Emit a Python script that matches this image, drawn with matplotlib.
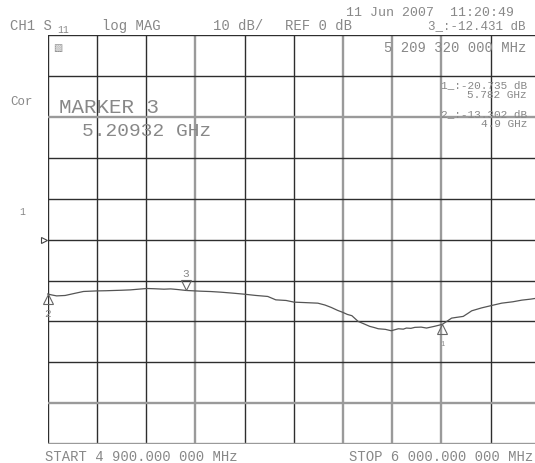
import matplotlib
matplotlib.use('Agg')
import matplotlib.pyplot as plt
import matplotlib.transforms as mtransforms
import numpy as np

# Swept S11 trace, 4.9 - 6.0 GHz, log MAG (dB)
freq_ghz = [4.900, 4.910, 4.920, 4.939, 4.960, 4.980, 5.010, 5.030, 5.047, 5.065,
            5.085, 5.105, 5.122, 5.140, 5.160, 5.175, 5.190, 5.20932, 5.242, 5.265,
            5.287, 5.315, 5.339, 5.365, 5.392, 5.410, 5.433, 5.451, 5.475, 5.504,
            5.520, 5.534, 5.548, 5.560, 5.570, 5.580, 5.594, 5.607, 5.620, 5.630,
            5.639, 5.655, 5.668, 5.684, 5.695, 5.702, 5.712, 5.721, 5.735, 5.747,
            5.765, 5.782, 5.795, 5.803, 5.815, 5.829, 5.840, 5.848, 5.870, 5.893,
            5.915, 5.940, 5.960, 5.980, 5.994, 6.000]
mag_db = [-13.302, -13.55, -13.76, -13.66, -13.15, -12.68, -12.54, -12.50, -12.44, -12.38,
          -12.29, -12.10, -11.95, -12.02, -12.12, -12.05, -12.20, -12.431, -12.61, -12.70,
          -12.85, -13.10, -13.34, -13.65, -13.90, -14.73, -14.88, -15.29, -15.40, -15.54,
          -16.00, -16.59, -17.30, -17.80, -18.30, -18.60, -20.00, -20.60, -21.22, -21.50,
          -21.80, -21.95, -22.29, -21.80, -21.90, -21.63, -21.70, -21.46, -21.40, -21.63,
          -21.20, -20.735, -19.80, -19.20, -19.00, -18.78, -18.00, -17.41, -16.70, -16.10,
          -15.54, -15.20, -14.80, -14.55, -14.32, -14.25]

# markers: number, frequency (GHz), value (dB)
marker_ids = [1, 2, 3]
marker_freq = [5.782, 4.9, 5.20932]
marker_db = [-20.735, -13.302, -12.431]
active_marker = 3

start_ghz, stop_ghz = 4.9, 6.0
ref_db, scale_db = 0, 10
x_divs = np.linspace(start_ghz, stop_ghz, 11)
y_divs = np.arange(-50, 51, 10)

W, H = 535, 464
fig = plt.figure(figsize=(W / 100, H / 100), dpi=100)
fig.patch.set_facecolor('white')

# graticule area (right edge runs slightly past the screen capture)
ax = fig.add_axes([47.7 / W, (H - 445) / H, 492 / W, 408.7 / H])
ax.set_xlim(start_ghz, stop_ghz)
ax.set_ylim(-50, 50)
ax.set_axis_off()

dark, light = '#2e2e2e', '#9a9a9a'
gray_cols = [3, 6, 7, 8]
gray_rows = [0, 1, 8]
for i, f in enumerate(x_divs):
    c, lw = (light, 1.7) if i in gray_cols else (dark, 1.0)
    ax.axvline(f, color=c, lw=lw, zorder=1)
for i, d in enumerate(y_divs):
    c, lw = (light, 1.7) if i in gray_rows else (dark, 1.0)
    ax.axhline(d, color=c, lw=lw, zorder=1)

ax.plot(freq_ghz, mag_db, color='#555555', lw=0.9, zorder=3, clip_on=False)

txt_col = '#888888'
mono = ['Liberation Mono', 'DejaVu Sans']

# marker symbols: tip of the triangle sits on the trace
down = mtransforms.offset_copy(ax.transData, fig=fig, x=0, y=5.0, units='dots')
up = mtransforms.offset_copy(ax.transData, fig=fig, x=0, y=-5.0, units='dots')
for n, f, v in zip(marker_ids, marker_freq, marker_db):
    if n == active_marker:
        ax.plot(f, v, marker='v', ms=7, mfc='none', mec='#666666', mew=0.8,
                transform=down, zorder=4, clip_on=False)
        ax.annotate(str(n), (f, v), xytext=(0, 17), textcoords='offset pixels',
                    ha='center', va='center', fontsize=8, family=mono, color=txt_col)
    else:
        ax.plot(f, v, marker='^', ms=7, mfc='none', mec='#666666', mew=0.8,
                transform=up, zorder=4, clip_on=False)
        ax.annotate(str(n), (f, v), xytext=(0, -19), textcoords='offset pixels',
                    ha='center', va='center', fontsize=8 if n == 2 else 5,
                    family=mono, color=txt_col)

# reference position pointer on the left edge
ax.plot(0, ref_db, marker='>', ms=4.5, mfc='none', mec='#444444', mew=0.8,
        transform=mtransforms.offset_copy(ax.get_yaxis_transform(), fig=fig,
                                          x=-4, y=0, units='dots'),
        clip_on=False, zorder=4)


def label(x, y, s, size=10, ha='left'):
    fig.text(x / W, 1 - y / H, s, ha=ha, va='center', fontsize=size,
             family=mono, color=txt_col)


label(346, 13, '11 Jun 2007  11:20:49', size=9.5)
label(10, 26, 'CH1 S', size=10)
label(57, 30, '11', size=7)
label(102, 26, 'log MAG', size=10)
label(213, 26, '%d dB/' % scale_db, size=10)
label(285, 26, 'REF %d dB' % ref_db, size=10)
label(526, 26, '%d_:%.3f dB' % (active_marker, marker_db[2]), size=9, ha='right')
label(526, 48, '5 209 320 000 MHz', size=10, ha='right')
label(53, 48, '\u25a7', size=7)
label(10, 102, 'Cor', size=9)
label(59, 108, 'MARKER %d' % active_marker, size=15)
label(82, 132, '%.5f GHz' % marker_freq[2], size=14)
label(527, 85, '1_:%.3f dB' % marker_db[0], size=8, ha='right')
label(527, 95, '%.3f GHz' % marker_freq[0], size=8, ha='right')
label(527, 114, '2_:%.3f dB' % marker_db[1], size=8, ha='right')
label(527, 124, '%.1f GHz' % marker_freq[1], size=8, ha='right')
label(22, 212, '1', size=7, ha='center')
label(45, 457, 'START 4 900.000 000 MHz', size=10)
label(533, 457, 'STOP 6 000.000 000 MHz', size=10, ha='right')

fig.savefig('out.png', dpi=100, facecolor='white')
